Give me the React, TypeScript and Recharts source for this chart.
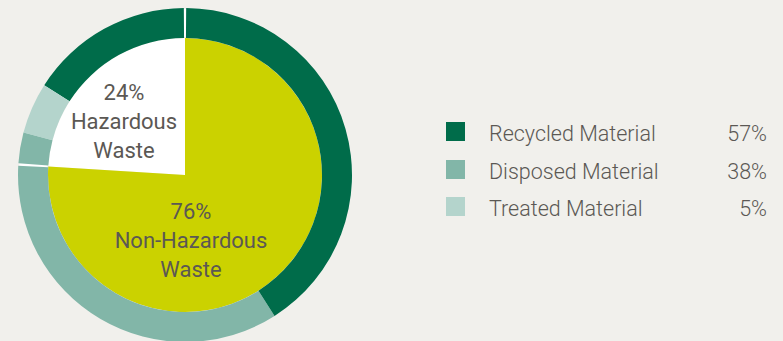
import { PieChart, Pie, Cell, Legend } from 'recharts';

// inner pie: waste type split (% of total waste)
const wasteTypes = ['Hazardous Waste', 'Non-Hazardous Waste'];
const wasteShares = [24, 76];

// legend: treatment of all waste
const materials = ['Recycled Material', 'Disposed Material', 'Treated Material'];
const materialShares = [57, 38, 5];

// outer ring: treatment within each waste type (% of total waste)
const hazardousMaterials = ['Recycled Material', 'Treated Material', 'Disposed Material'];
const hazardousShares = [16, 5, 3];
const nonHazardousMaterials = ['Disposed Material', 'Recycled Material'];
const nonHazardousShares = [35, 41];

const materialColors: Record<string, string> = {
	'Recycled Material': '#006c4a',
	'Disposed Material': '#82b6a8',
	'Treated Material': '#b4d4cc',
};
const wasteColors = ['#ffffff', '#cbd200'];
const textColor = '#5b5854';

const CX = 185;
const CY = 175;
const PIE_R = 137;
const RING_R = 167;
const GAP = 0.4;

const innerData = wasteTypes.map((name, i) => ({ name, value: wasteShares[i] }));
const hazData = hazardousMaterials.map((name, i) => ({ name, value: hazardousShares[i] }));
const nonHazData = nonHazardousMaterials.map((name, i) => ({ name, value: nonHazardousShares[i] }));

const hazAngle = 90 + (wasteShares[0] / (wasteShares[0] + wasteShares[1])) * 360;

const labelOffsets = [
	{ dx: -61, dy: -54 },
	{ dx: 6, dy: 65 },
];

const renderLabel = (props: any) => {
	const { cx, cy, index, name, value } = props;
	const off = labelOffsets[index];
	const x = cx + off.dx;
	const y = cy + off.dy;
	const split = name.lastIndexOf(' ');
	const lines = [`${value}%`, name.slice(0, split), name.slice(split + 1)];
	return (
		<text
			key={`lbl-${index}`}
			x={x}
			y={y}
			textAnchor="middle"
			fill={textColor}
			fontSize={22}
			fontFamily="Roboto, sans-serif"
		>
			{lines.map((line, i) => (
				<tspan key={i} x={x} y={y + (i - 1) * 29} dominantBaseline="central">
					{line}
				</tspan>
			))}
		</text>
	);
};

const ROW_H = 37.5;

const LegendContent = () => (
	<div style={{ fontFamily: 'Roboto, sans-serif', fontWeight: 300, fontSize: 21.5, color: textColor }}>
		{materials.map((m, i) => (
			<div key={m} style={{ position: 'relative', height: ROW_H, width: 321 }}>
				<div
					style={{
						position: 'absolute',
						left: 0,
						top: 9,
						width: 19,
						height: 19,
						background: materialColors[m],
					}}
				/>
				<div style={{ position: 'absolute', left: 43, top: 2, lineHeight: `${ROW_H}px`, whiteSpace: 'nowrap' }}>{m}</div>
				<div style={{ position: 'absolute', right: 0, top: 2, lineHeight: `${ROW_H}px` }}>{materialShares[i]}%</div>
			</div>
		))}
	</div>
);

export default function App() {
	return (
		<div style={{ position: 'absolute', left: 0, top: 0, width: 783, height: 341, background: '#f1f0ec' }}>
			<PieChart width={783} height={341} margin={{ top: 0, right: 0, bottom: 0, left: 0 }}>
				<Pie
					data={[{ name: 'ring', value: 1 }]}
					dataKey="value"
					cx={CX}
					cy={CY}
					innerRadius={PIE_R + 1}
					outerRadius={RING_R - 1}
					fill="#ffffff"
					stroke="none"
					isAnimationActive={false}
					legendType="none"
				/>
				<Pie
					data={innerData}
					dataKey="value"
					cx={CX}
					cy={CY}
					innerRadius={0}
					outerRadius={PIE_R}
					startAngle={90}
					endAngle={450}
					stroke="none"
					label={renderLabel}
					labelLine={false}
					isAnimationActive={false}
				>
					{innerData.map((d, i) => (
						<Cell key={d.name} fill={wasteColors[i]} />
					))}
				</Pie>
				<Pie
					data={hazData}
					dataKey="value"
					cx={CX}
					cy={CY}
					innerRadius={PIE_R}
					outerRadius={RING_R}
					startAngle={90 + GAP}
					endAngle={hazAngle - GAP}
					stroke="none"
					isAnimationActive={false}
				>
					{hazData.map((d) => (
						<Cell key={d.name} fill={materialColors[d.name]} />
					))}
				</Pie>
				<Pie
					data={nonHazData}
					dataKey="value"
					cx={CX}
					cy={CY}
					innerRadius={PIE_R}
					outerRadius={RING_R}
					startAngle={hazAngle + GAP}
					endAngle={450 - GAP}
					stroke="none"
					isAnimationActive={false}
				>
					{nonHazData.map((d) => (
						<Cell key={d.name} fill={materialColors[d.name]} />
					))}
				</Pie>
				<Legend
					content={<LegendContent />}
					wrapperStyle={{ left: 446, top: 113, width: 321, bottom: 'auto', right: 'auto' }}
				/>
			</PieChart>
		</div>
	);
}
